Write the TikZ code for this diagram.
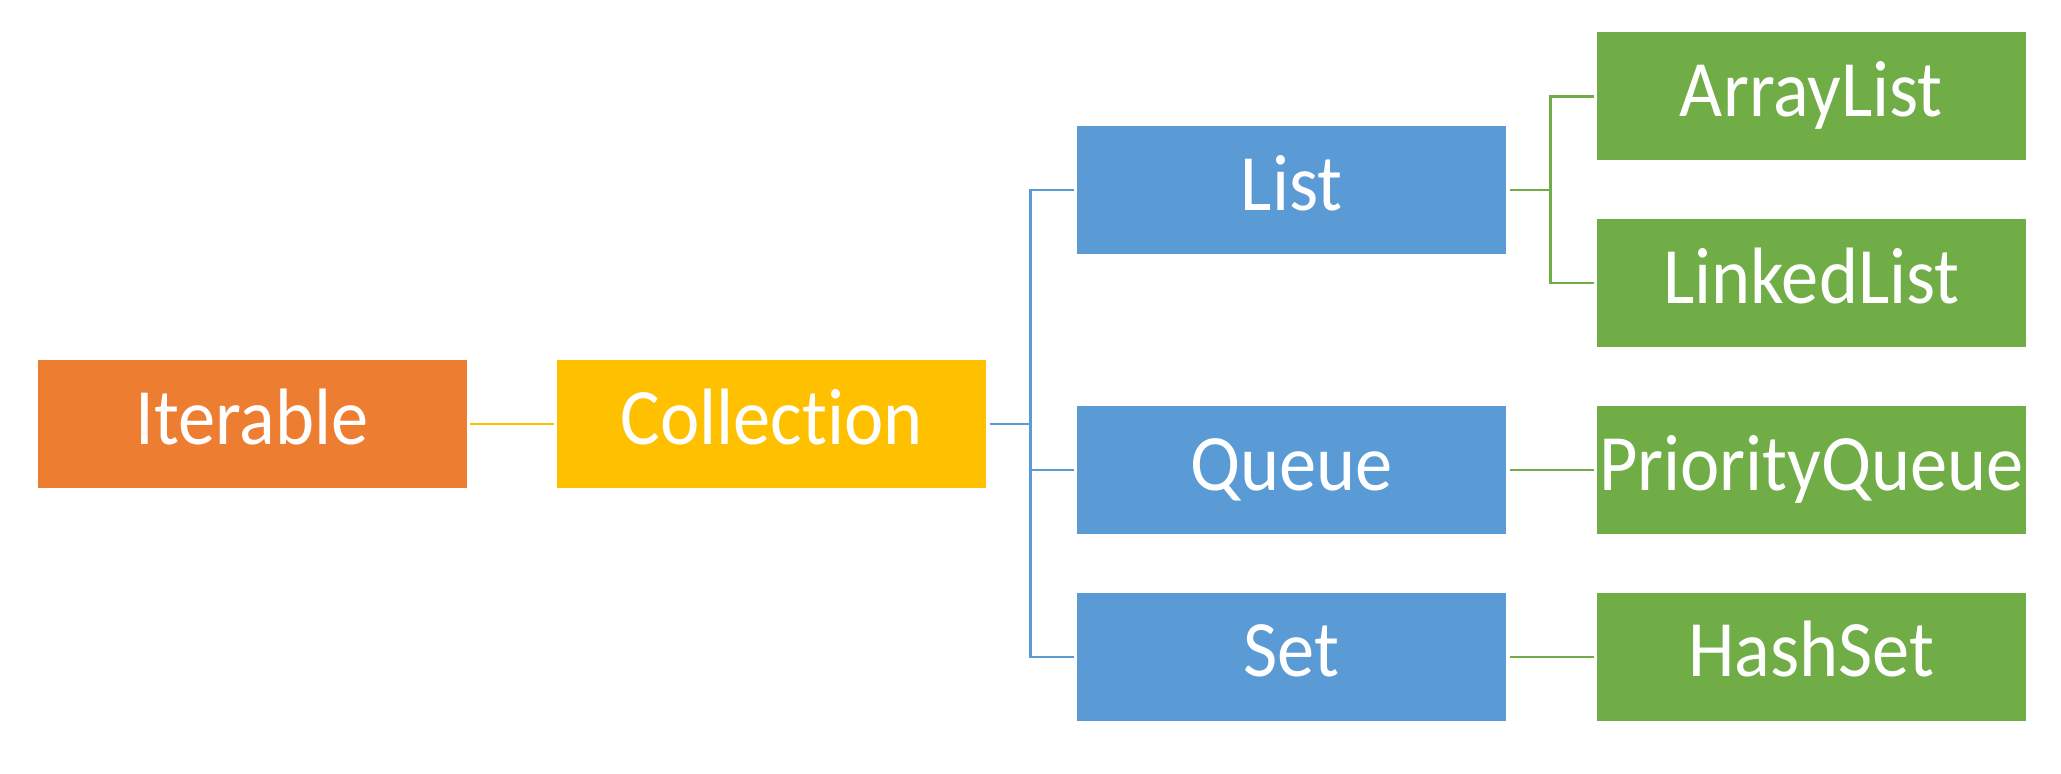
\documentclass[tikz,border=0pt]{standalone}
\usepackage{fontspec}
\newfontfamily\boxfont[FakeStretch=0.93, Ligatures={NoCommon,NoRequired,NoContextual}]{Carlito}
\usetikzlibrary{positioning}

\definecolor{iterorange}{HTML}{ED7D31}
\definecolor{collyellow}{HTML}{FFC000}
\definecolor{ifblue}{HTML}{5B9BD5}
\definecolor{implgreen}{HTML}{70AD47}

\begin{document}
\begin{tikzpicture}[
		block/.style={minimum height=64pt, minimum width=214.5pt, inner sep=0pt,
			text=white, font=\boxfont\fontsize{40}{44}\selectfont,
			text height=25.5pt, text depth=5.5pt},
		link/.style={line width=1.25pt, shorten <=1.5pt, shorten >=1.5pt},
		node distance=29pt and 45pt
	]
		\useasboundingbox (0,0) rectangle (1030.5pt,-386.5pt);

		\node[block, fill=iterorange] (iterable) at (126pt,-212pt) {Iterable};
		\node[block, fill=collyellow, right=of iterable] (collection) {Collection};

		\node[block, fill=ifblue, right=of collection, yshift=-23pt] (queue) {Queue};
		\node[block, fill=ifblue, below=of queue] (set) {Set};
		\node[block, fill=ifblue, above=75.5pt of queue] (list) {List};

		\node[block, fill=implgreen, right=of queue] (prio) {PriorityQueue};
		\node[block, fill=implgreen, right=of set] (hashset) {HashSet};
		\node[block, fill=implgreen, above=of prio] (linked) {LinkedList};
		\node[block, fill=implgreen, above=of linked] (array) {ArrayList};

		\draw[link, collyellow] (iterable) -- (collection);
		\foreach \c in {list,queue,set}
			\draw[link, ifblue] (collection.east) -- ++(22pt,0) |- (\c.west);
		\foreach \c in {array,linked}
			\draw[link, implgreen] (list.east) -- ++(22pt,0) |- (\c.west);
		\draw[link, implgreen] (queue) -- (prio);
		\draw[link, implgreen] (set) -- (hashset);
	\end{tikzpicture}
\end{document}
